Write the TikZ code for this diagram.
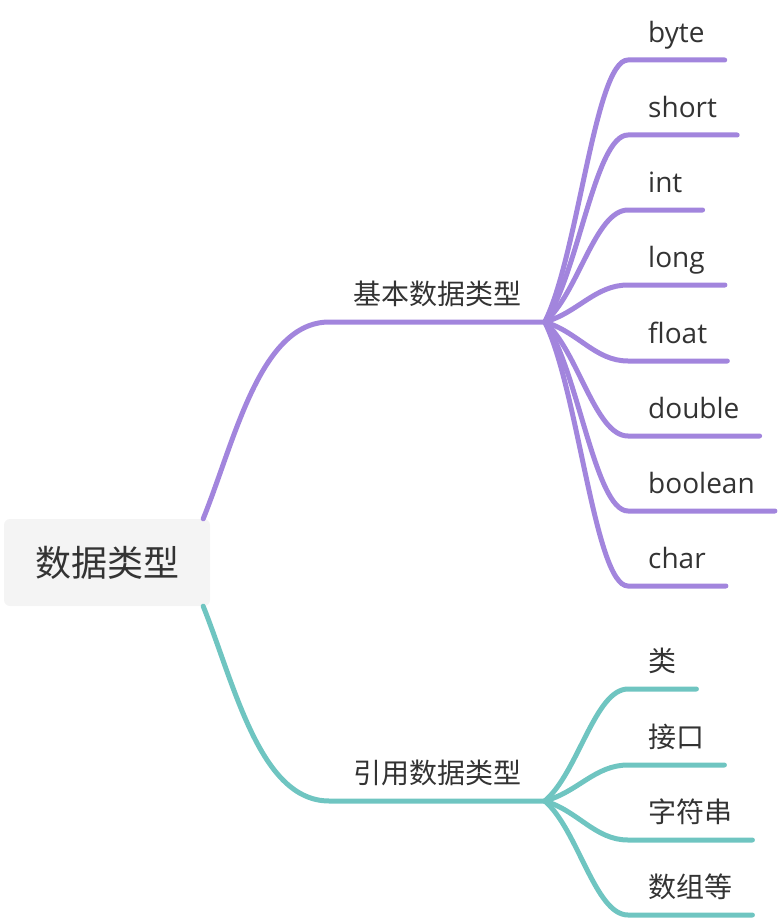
\documentclass[tikz,border=0pt]{standalone}
\usepackage{fontspec}
\setmainfont{Open Sans}
\newfontfamily\cjk{Noto Sans CJK SC}
\usepackage{xcolor}

\definecolor{basiccol}{HTML}{A285DD}
\definecolor{refcol}{HTML}{6FC5C1}
\definecolor{rootfill}{HTML}{F4F4F4}
\definecolor{txtcol}{HTML}{333333}

\tikzset{
  rootbox/.style={fill=rootfill, rounded corners=6pt, minimum width=206pt, minimum height=87pt,
    font=\cjk\fontsize{36}{40}\selectfont, text=txtcol},
  midlabel/.style={anchor=south, inner xsep=23.5pt, inner ysep=17pt, text depth=0pt,
    font=\cjk\fontsize{28}{32}\selectfont, text=txtcol},
  leaf/.style={anchor=south west, inner xsep=20pt, inner ysep=17pt, text depth=0pt,
    font=\fontsize{28}{32}\selectfont, text=txtcol},
  cjkleaf/.style={leaf, font=\cjk\fontsize{28}{32}\selectfont},
  basicline/.style={basiccol, line width=5pt, line cap=round},
  refline/.style={refcol, line width=5pt, line cap=round},
}

\begin{document}
\begin{tikzpicture}[x=1pt,y=-1pt]
  \useasboundingbox (0,0) rectangle (778,920);

  \node[rootbox] (root) at (107,562.5) {数据类型};
  \node[midlabel] (basic) at (437,322) {基本数据类型};
  \node[midlabel] (ref) at (437,801) {引用数据类型};

  % main branches
  \draw[basicline] ([xshift=-7pt]root.north east) .. controls (235,440) and (260,322) .. (basic.south west) -- (basic.south east);
  \draw[refline] ([xshift=-7pt]root.south east) .. controls (235,686) and (260,801) .. (ref.south west) -- (ref.south east);

  % basic types
  \foreach \nm/\yy in {byte/60, short/135, int/210, long/285, float/361, double/436, boolean/511, char/586} {
    \node[leaf] (\nm) at (628,\yy) {\nm};
    \pgfmathsetmacro\cy{322+0.25*(\yy-322)}
    \draw[basicline] (basic.south east) .. controls (578,\cy) and (595,\yy) .. (\nm.south west) -- (\nm.south east);
  }

  % reference types
  \foreach \nm/\yy/\txt in {cls/689/类, iface/765/接口, str/840/字符串, arr/915/数组等} {
    \node[cjkleaf] (\nm) at (628,\yy) {\txt};
    \pgfmathsetmacro\cy{801+0.25*(\yy-801)}
    \draw[refline] (ref.south east) .. controls (578,\cy) and (595,\yy) .. (\nm.south west) -- (\nm.south east);
  }
\end{tikzpicture}
\end{document}
